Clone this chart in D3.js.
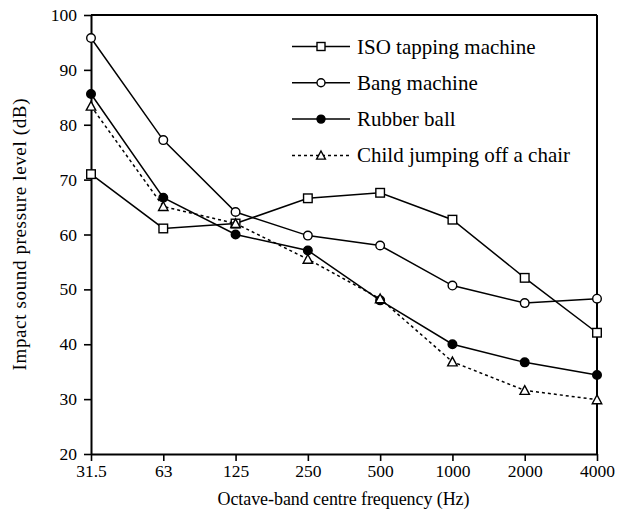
<!DOCTYPE html>
<html>
  <head>
    <script src="https://d3js.org/d3.v7.min.js"></script>
    <style>
body { margin: 0; background: white; }
    </style>
  </head>
  <body>
    <script>
var freqs = ["31.5", "63", "125", "250", "500", "1000", "2000", "4000"];
var isoTapping = [71, 61.1, 62, 66.6, 67.6, 62.7, 52.1, 42.1];
var bangMachine = [95.8, 77.2, 64.1, 59.8, 58, 50.7, 47.5, 48.3];
var rubberBall = [85.6, 66.7, 60, 57.1, 48, 40, 36.7, 34.4];
var childJump = [83.4, 65.1, 62, 55.5, 48.3, 36.8, 31.6, 29.9];
var yTicks = [20, 30, 40, 50, 60, 70, 80, 90, 100];

var series = [
	{name: "ISO tapping machine", values: isoTapping, marker: "square", dash: null},
	{name: "Bang machine", values: bangMachine, marker: "circle", dash: null},
	{name: "Rubber ball", values: rubberBall, marker: "dot", dash: null},
	{name: "Child jumping off a chair", values: childJump, marker: "triangle", dash: "3,3"}
];

var FONT = "Liberation Serif, Times New Roman, serif";
var W = 619, H = 517;
var pLeft = 91, pRight = 597, pTop = 15, pBottom = 454;

var svg = d3.select("body").append("svg").attr("width", W).attr("height", H)
	.attr("font-family", FONT);

var x = d3.scalePoint().domain(freqs).range([pLeft, pRight]);
var y = d3.scaleLinear().domain([20, 100]).range([pBottom, pTop]);

// frame
svg.append("line").attr("x1", pLeft).attr("x2", pRight).attr("y1", pTop).attr("y2", pTop)
	.style("stroke", "black").style("stroke-width", 2);
svg.append("line").attr("x1", pRight).attr("x2", pRight).attr("y1", pTop).attr("y2", pBottom)
	.style("stroke", "black").style("stroke-width", 2);

var xAxis = svg.append("g").attr("transform", "translate(0," + pBottom + ")")
	.call(d3.axisBottom(x).tickSize(7).tickSizeOuter(0).tickPadding(4));
var yAxis = svg.append("g").attr("transform", "translate(" + pLeft + ",0)")
	.call(d3.axisLeft(y).tickValues(yTicks).tickSize(7).tickSizeOuter(0).tickPadding(7));

[xAxis, yAxis].forEach(function (a) {
	a.attr("font-family", FONT).attr("font-size", 17.5);
	a.select(".domain").style("stroke-width", 2);
	a.selectAll(".tick line").style("stroke-width", 1.6);
	a.selectAll("text").style("fill", "black");
});

svg.append("text").attr("x", (pLeft + pRight) / 2 - 0.5).attr("y", 505).attr("text-anchor", "middle")
	.attr("font-size", 18).attr("textLength", 252).text("Octave-band centre frequency (Hz)");
svg.append("text").attr("transform", "translate(26," + ((pTop + pBottom) / 2) + ") rotate(-90)")
	.attr("text-anchor", "middle").attr("font-size", 19).attr("textLength", 272)
	.text("Impact sound pressure level (dB)");

function drawMarker(g, kind, cx, cy, size) {
	if (kind == "square") {
		g.append("rect").attr("x", cx - size).attr("y", cy - size).attr("width", size * 2).attr("height", size * 2)
			.style("fill", "white").style("stroke", "black").style("stroke-width", 1.4);
	} else if (kind == "circle") {
		g.append("circle").attr("cx", cx).attr("cy", cy).attr("r", size)
			.style("fill", "white").style("stroke", "black").style("stroke-width", 1.4);
	} else if (kind == "dot") {
		g.append("circle").attr("cx", cx).attr("cy", cy).attr("r", size)
			.style("fill", "black").style("stroke", "black").style("stroke-width", 1.4);
	} else {
		var s = size * 1.1;
		g.append("path").attr("d", "M" + cx + "," + (cy - s) + "L" + (cx + s) + "," + (cy + s * 0.85) + "L" + (cx - s) + "," + (cy + s * 0.85) + "Z")
			.style("fill", "white").style("stroke", "black").style("stroke-width", 1.4);
	}
}

var line = d3.line().x(function (d, i) { return x(freqs[i]); }).y(function (d) { return y(d); });

series.forEach(function (s) {
	var g = svg.append("g");
	g.append("path").datum(s.values).attr("d", line)
		.style("fill", "none").style("stroke", "black").style("stroke-width", 1.5)
		.style("stroke-dasharray", s.dash);
	s.values.forEach(function (v, i) {
		drawMarker(g, s.marker, x(freqs[i]), y(v), 4.3);
	});
});

// legend
var lg = svg.append("g");
series.forEach(function (s, i) {
	var ly = 46.5 + i * 36.3;
	lg.append("line").attr("x1", 292).attr("x2", 350).attr("y1", ly).attr("y2", ly)
		.style("stroke", "black").style("stroke-width", 1.5).style("stroke-dasharray", s.dash);
	drawMarker(lg, s.marker, 321, ly, 4);
	lg.append("text").attr("x", 357).attr("y", ly + 7).attr("font-size", 21).text(s.name);
});
    </script>
  </body>
</html>
